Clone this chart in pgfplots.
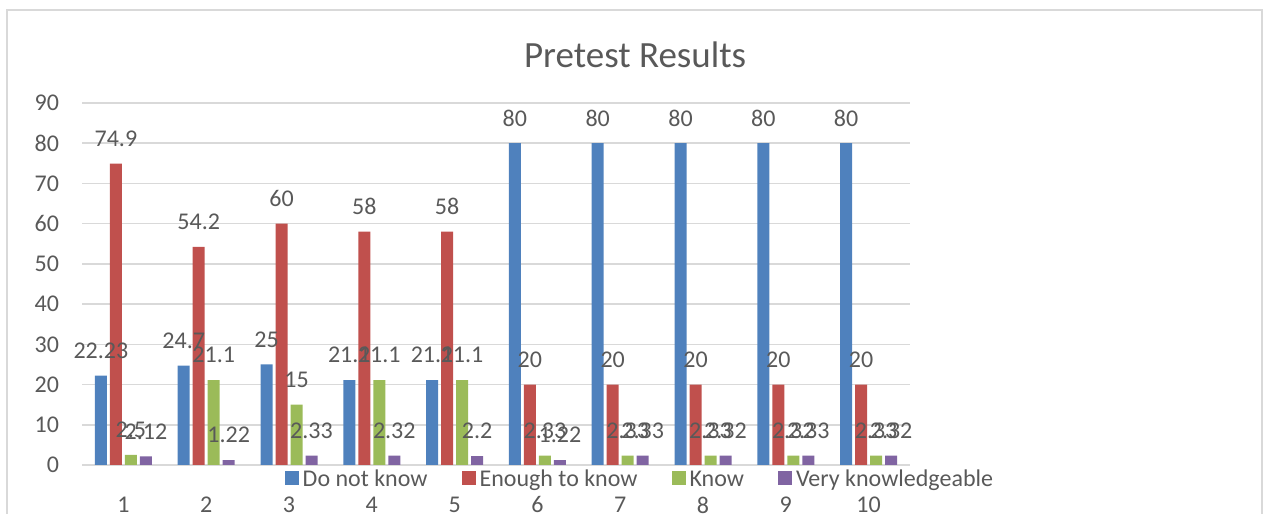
\documentclass[border=0pt]{standalone}
\usepackage{pgfplots}
\pgfplotsset{compat=1.18}
\usepackage{pgfplotstable}
\usepackage{fontspec}
\setmainfont{Carlito}
\definecolor{cblue}{HTML}{4F81BD}
\definecolor{cred}{HTML}{C0504D}
\definecolor{cgreen}{HTML}{9BBB59}
\definecolor{cpurple}{HTML}{8064A2}
\definecolor{ctext}{HTML}{595959}
\definecolor{cgrid}{HTML}{D9D9D9}
\pgfplotstableread{
x dnk enough know very
1 22.23 74.9 2.5 2.12
2 24.7 54.2 21.1 1.22
3 25 60 15 2.33
4 21.1 58 21.1 2.32
5 21.1 58 21.1 2.2
6 80 20 2.33 1.22
7 80 20 2.33 2.33
8 80 20 2.33 2.32
9 80 20 2.32 2.33
10 80 20 2.33 2.32
}\datatable
\begin{document}
\begin{tikzpicture}
\useasboundingbox (0,0) rectangle (632pt,257pt);
\draw[cgrid, line width=0.75pt] (3.5pt,-10pt) -- (3.5pt,252pt) -- (631pt,252pt) -- (631pt,-10pt);
\begin{axis}[
  at={(41pt,24.5pt)}, anchor=south west,
  scale only axis, width=414pt, height=181pt,
  ybar=1.5pt, bar width=6pt,
  xmin=0.5, xmax=10.5, ymin=0, ymax=90,
  xtick={1,...,10}, ytick={0,10,...,90},
  /pgf/number format/assume math mode=true,
  axis x line*=bottom, axis y line*=left,
  x axis line style={draw=cgrid, line width=0.75pt},
  y axis line style={draw=none},
  ymajorgrids, grid style={draw=cgrid, line width=0.75pt},
  major tick length=0pt,
  tick label style={font=\fontsize{12}{14}\selectfont, text=ctext},
  xticklabel style={yshift=-12.3pt},
  yticklabel style={xshift=-8pt},
  ytick style={draw=none}, xtick style={draw=none},
  title={Pretest Results},
  title style={at={(rel axis cs:0.668,1.1)}, anchor=center, font=\fontsize{18.5}{22}\selectfont, text=ctext},
  nodes near coords={\pgfmathprintnumber{\pgfplotspointmeta}},
  nodes near coords style={font=\fontsize{12}{14}\selectfont, text=ctext, anchor=center, yshift=12.5pt},
  legend columns=4,
  legend style={at={(rel axis cs:0.675,-0.036)}, anchor=center, draw=none, fill=none,
    font=\fontsize{12}{14}\selectfont, text=ctext,
    /tikz/every even column/.append style={column sep=15pt}},
  legend cell align=left,
  legend image code/.code={\fill[#1] (0pt,-3.5pt) rectangle (7pt,3.5pt);},
  clip=false,
]
\addplot[fill=cblue, draw=none] table[x=x, y=dnk] {\datatable};
\addplot[fill=cred, draw=none] table[x=x, y=enough] {\datatable};
\addplot[fill=cgreen, draw=none] table[x=x, y=know] {\datatable};
\addplot[fill=cpurple, draw=none] table[x=x, y=very] {\datatable};
\legend{\strut Do not know, \strut Enough to know, \strut Know, \strut Very knowledgeable}
\end{axis}
\end{tikzpicture}
\end{document}
